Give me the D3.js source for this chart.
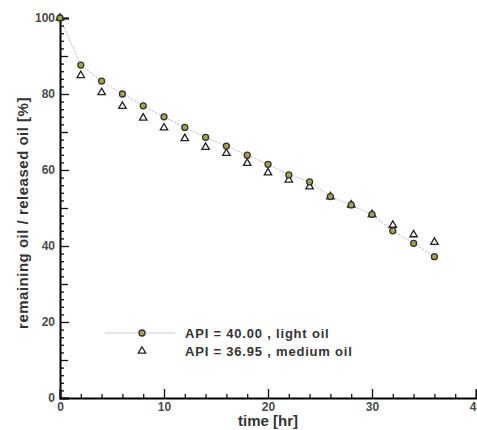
<!DOCTYPE html>
<html><head><meta charset="utf-8">
<script src="https://cdn.jsdelivr.net/npm/d3@7"></script>
<style>
body{margin:0;background:#fff;}
svg{display:block;font-family:"Liberation Sans",Arial,sans-serif;}
</style></head>
<body><svg id="c" width="477" height="430"></svg>
<script>
const timeHr = [0, 2, 4, 6, 8, 10, 12, 14, 16, 18, 20, 22, 24, 26, 28, 30, 32, 34, 36];
const lightOil = [100, 87.6, 83.4, 80.0, 76.9, 74.0, 71.2, 68.6, 66.3, 63.9, 61.5, 58.7, 56.9, 53.0, 50.8, 48.3, 44.0, 40.7, 37.2];
const mediumOil = [100, 84.9, 80.4, 76.8, 73.7, 71.1, 68.3, 66.0, 64.4, 61.8, 59.3, 57.4, 55.6, 53.0, 50.8, 48.3, 45.5, 43.0, 41.0];
const seriesNames = ["API = 40.00 , light oil", "API = 36.95 , medium oil"];
const xTicks = [0, 10, 20, 30, 40];
const yTicks = [0, 20, 40, 60, 80, 100];

const svg = d3.select("#c");
const x = d3.scaleLinear().domain([0, 40]).range([60, 476]);
const y = d3.scaleLinear().domain([0, 100]).range([398, 18]);

// connecting line (light oil)
const line = d3.line().x((d, i) => x(timeHr[i])).y(d => y(d));
svg.append("path").datum(lightOil).attr("d", line)
  .attr("fill", "none").attr("stroke", "#c4c6d2").attr("stroke-width", 1.2)
  .attr("stroke-dasharray", "2,1.5");

// Y axis
const yMinor = d3.range(0, 101, 2).filter(v => v % 10 !== 0);
svg.append("g").attr("transform", "translate(60,0)")
  .call(d3.axisLeft(y).tickValues(yMinor).tickSize(-4).tickFormat(""))
  .call(g => g.select(".domain").remove());
svg.append("g").attr("transform", "translate(60,0)")
  .call(d3.axisLeft(y).tickValues(d3.range(10, 100, 20)).tickSize(-8).tickFormat(""))
  .call(g => g.select(".domain").remove());
svg.append("g").attr("transform", "translate(60,0)")
  .call(d3.axisLeft(y).tickValues(yTicks).tickSize(-9).tickPadding(5).tickFormat(d3.format("d")))
  .call(g => g.select(".domain").attr("stroke-width", 2))
  .call(g => g.selectAll("text").attr("font-size", 12).attr("font-weight", "bold").attr("fill", "#4a4a4a").attr("font-family", "Liberation Sans, Arial, sans-serif"));

// X axis
const xMinor = d3.range(0, 41, 2).filter(v => v % 10 !== 0);
svg.append("g").attr("transform", "translate(0,398)")
  .call(d3.axisBottom(x).tickValues(xMinor).tickSize(-4).tickFormat(""))
  .call(g => g.select(".domain").remove());
svg.append("g").attr("transform", "translate(0,398)")
  .call(d3.axisBottom(x).tickValues(xTicks).tickSize(-9).tickPadding(4).tickFormat(d3.format("d")))
  .call(g => g.select(".domain").attr("stroke-width", 2))
  .call(g => g.selectAll("text").attr("font-size", 12).attr("font-weight", "bold").attr("fill", "#4a4a4a").attr("font-family", "Liberation Sans, Arial, sans-serif"));
svg.selectAll(".tick line").attr("stroke", "#111").attr("stroke-width", 1.3);

// markers
const tri = d3.symbol().type(d3.symbolTriangle).size(24);
svg.append("g").selectAll("path").data(mediumOil).join("path")
  .attr("d", tri).attr("transform", (d, i) => `translate(${x(timeHr[i])},${y(d)})`)
  .attr("fill", "#fff").attr("stroke", "#222").attr("stroke-width", 1.3);
svg.append("g").selectAll("circle").data(lightOil).join("circle")
  .attr("cx", (d, i) => x(timeHr[i])).attr("cy", d => y(d)).attr("r", 3)
  .attr("fill", "#a3a64a").attr("stroke", "#333").attr("stroke-width", 1.3);

// axis titles
svg.append("text").attr("x", 268).attr("y", 426).attr("text-anchor", "middle")
  .attr("font-size", 15).attr("font-weight", "bold").attr("fill", "#333").text("time [hr]");
svg.append("text").attr("transform", "translate(28,213) rotate(-90)").attr("text-anchor", "middle")
  .attr("font-size", 15).attr("font-weight", "bold").attr("letter-spacing", 0.5).attr("fill", "#333")
  .text("remaining oil / released oil [%]");

// legend
const lg = svg.append("g");
lg.append("line").attr("x1", 105).attr("x2", 175).attr("y1", 333).attr("y2", 333)
  .attr("stroke", "#ccccd4").attr("stroke-width", 1.2);
lg.append("circle").attr("cx", 142).attr("cy", 333).attr("r", 3)
  .attr("fill", "#a3a64a").attr("stroke", "#333").attr("stroke-width", 1.3);
lg.append("path").attr("d", tri).attr("transform", "translate(142,351)")
  .attr("fill", "#fff").attr("stroke", "#222").attr("stroke-width", 1.3);
lg.selectAll("text").data(seriesNames).join("text")
  .attr("x", 185).attr("y", (d, i) => 337.5 + i * 18)
  .attr("font-size", 13).attr("font-weight", "bold").attr("letter-spacing", 0.8).attr("fill", "#333").text(d => d);
</script></body></html>
